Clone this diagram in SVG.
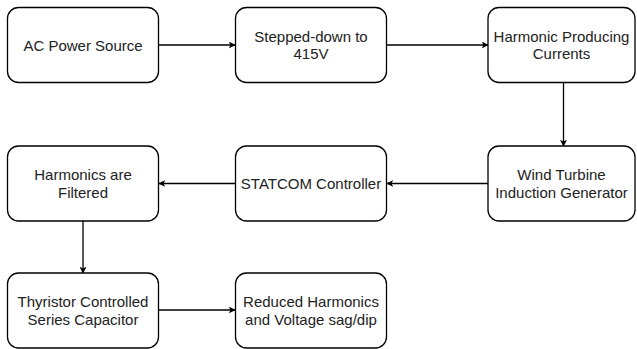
<svg xmlns="http://www.w3.org/2000/svg" width="637" height="349" viewBox="0 0 637 349">
<defs>
<style>
.box{fill:#fff;stroke:#000;stroke-width:1.3}
.t{font-family:"Liberation Sans",Arial,sans-serif;font-size:15px;fill:#222;text-anchor:middle}
.c{stroke:#000;stroke-width:1.3;fill:none;marker-end:url(#ah)}
</style>
<marker id="ah" viewBox="0 0 10 10" refX="9" refY="5" markerWidth="7" markerHeight="7" markerUnits="userSpaceOnUse" orient="auto">
<path d="M0,0 L10,5 L0,10 L2.5,5 Z" fill="#000"/>
</marker>
</defs>
<rect width="637" height="349" fill="#fff"/>
<g id="connectors">
<path class="c" d="M159,45 H235"/>
<path class="c" d="M387,45 H488"/>
<path class="c" d="M563.5,83 V146"/>
<path class="c" d="M488,183.5 H387"/>
<path class="c" d="M235,183.5 H159"/>
<path class="c" d="M83,221 V273"/>
<path class="c" d="M159,310 H235"/>
</g>
<g id="n1"><rect class="box" x="7.5" y="7.5" width="151" height="75" rx="11"/><text class="t" x="83" y="50.5">AC Power Source</text></g>
<g id="n2"><rect class="box" x="235.5" y="7.5" width="151" height="75" rx="11"/><text class="t" x="311" y="42">Stepped-down to</text><text class="t" x="311" y="59">415V</text></g>
<g id="n3"><rect class="box" x="488" y="7.5" width="147" height="75" rx="11"/><text class="t" x="561.5" y="42">Harmonic Producing</text><text class="t" x="561.5" y="59">Currents</text></g>
<g id="n4"><rect class="box" x="488" y="146" width="147" height="75" rx="11"/><text class="t" x="561.5" y="180">Wind Turbine</text><text class="t" x="561.5" y="198">Induction Generator</text></g>
<g id="n5"><rect class="box" x="235.5" y="146" width="151" height="75" rx="11"/><text class="t" x="311" y="189">STATCOM Controller</text></g>
<g id="n6"><rect class="box" x="7.5" y="146" width="151" height="75" rx="11"/><text class="t" x="83" y="180">Harmonics are</text><text class="t" x="83" y="198">Filtered</text></g>
<g id="n7"><rect class="box" x="7.5" y="273" width="151" height="75" rx="11"/><text class="t" x="83" y="307">Thyristor Controlled</text><text class="t" x="83" y="325">Series Capacitor</text></g>
<g id="n8"><rect class="box" x="235.5" y="273" width="151" height="75" rx="11"/><text class="t" x="311" y="307">Reduced Harmonics</text><text class="t" x="311" y="325">and Voltage sag/dip</text></g>
</svg>
